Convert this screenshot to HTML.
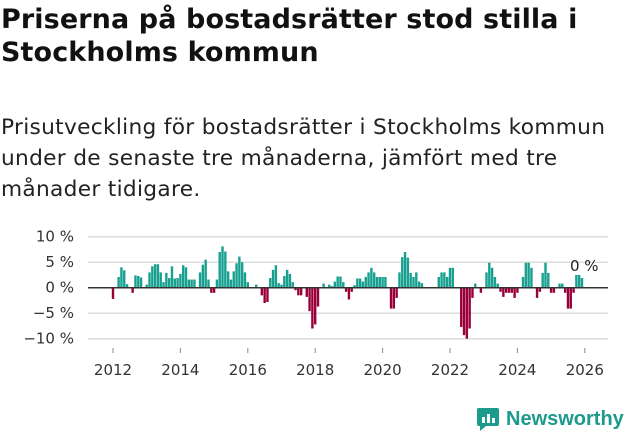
<!DOCTYPE html>
<html><head><meta charset="utf-8"><style>
body{margin:0;width:631px;height:439px;background:#fff;font-family:"DejaVu Sans","Liberation Sans",sans-serif;color:#111;overflow:hidden;position:relative}
#title{position:absolute;left:1px;top:3px;font-size:27px;font-weight:bold;line-height:33px;margin:0;white-space:nowrap;letter-spacing:0.1px}
#sub{position:absolute;left:1px;top:112px;font-size:21.7px;letter-spacing:0.3px;line-height:31px;color:#222;margin:0;white-space:nowrap}
#logo{position:absolute;left:476px;top:406px;display:flex;align-items:center}
#logo span{color:#1c9a8c;font-weight:bold;font-size:20px;margin-left:6px;font-family:"Liberation Sans",sans-serif}
svg text{font-family:"DejaVu Sans","Liberation Sans",sans-serif}
</style></head><body>
<h1 id="title">Priserna på bostadsrätter stod stilla i<br>Stockholms kommun</h1>
<p id="sub">Prisutveckling för bostadsrätter i Stockholms kommun<br>under de senaste tre månaderna, jämfört med tre<br>månader tidigare.</p>
<svg id="chart" width="631" height="439" style="position:absolute;left:0;top:0"></svg>
<div id="logo">
<svg width="24" height="26" viewBox="0 0 24 26"><path d="M3 2h18a2 2 0 0 1 2 2v14a2 2 0 0 1-2 2H10l-6 5v-5H3a2 2 0 0 1-2-2V4a2 2 0 0 1 2-2z" fill="#1c9a8c"/><rect x="6" y="11" width="3" height="6" fill="#fff"/><rect x="11" y="8" width="3" height="9" fill="#fff"/><rect x="16" y="12" width="3" height="5" fill="#fff"/></svg>
<span>Newsworthy</span></div>
<script>
const values=[-2.2,0,2.1,4,3.4,0.7,0,-1,2.4,2.3,2,0,0.6,3,4.2,4.6,4.6,3,1.1,2.9,1.9,4.2,1.8,1.9,2.7,4.4,4,1.6,1.6,1.6,0.1,3,4.5,5.5,1.6,-1,-1,1.6,7,8.1,7.1,3.2,1.6,3.2,4.8,6.1,5,3,1.1,0,0,0.6,0,-1.5,-3,-2.8,1.9,3.5,4.4,0.9,0.6,2.3,3.5,2.7,1.1,-0.5,-1.5,-1.5,0,-1.8,-4.6,-8,-7.2,-3.7,0,0.8,0,0.6,0.3,1.2,2.2,2.2,1.1,-0.8,-2.3,-0.8,0.5,1.8,1.8,1.2,2.1,3,3.9,3,2.1,2.1,2.1,2.1,0,-4.1,-4.1,-2,3,6,7,5.9,2.9,2.1,3,1.2,0.9,0,0,0,0,0,2.1,3,3,2.1,3.9,3.9,0,0,-7.7,-9.3,-10,-8,-2,0.8,0,-1,0,3,4.9,3.9,2.1,0.8,-0.8,-1.8,-1,-1,-1,-2,-1,0,2.1,4.9,4.9,3.9,0,-2,-0.8,2.9,4.9,2.9,-1,-1,0,0.8,0.8,-1,-4.1,-4.1,-1,2.5,2.5,1.9];
const startYear=2012;
const yTicks=[10,5,0,-5,-10];
const yLabels=["10 %","5 %","0 %","−5 %","−10 %"];
const xTicks=[2012,2014,2016,2018,2020,2022,2024,2026];
const lastLabel="0 %";
const NS="http://www.w3.org/2000/svg";
const svg=document.getElementById('chart');
const y=v=>287.7-v*5.1;
const x=t=>113+(t-startYear)*33.7;
function mk(tag,attrs){const e=document.createElementNS(NS,tag);for(const k in attrs)e.setAttribute(k,attrs[k]);svg.appendChild(e);return e;}
yTicks.forEach((t,i)=>{
 if(t!==0){const g=mk('line',{x1:88,x2:608,y1:y(t),y2:y(t),stroke:'#ddd','stroke-width':1.5});
 
 }
 const l=mk('text',{x:74,y:y(t)+5,'text-anchor':'end','font-size':15,fill:'#333'});l.textContent=yLabels[i];
 
 
});
const bw=2.4;
values.forEach((v,i)=>{
 if(v===0)return;
 const cx=x(startYear+i/12);
 const b=mk('rect',{x:cx-bw/2,y:Math.min(y(v),y(0)),width:bw,height:Math.abs(y(v)-y(0)),fill:v>0?'#17a090':'#99003a'});
 
 
});
const z=mk('line',{x1:88,x2:608,y1:y(0),y2:y(0),stroke:'#333','stroke-width':1.5});


xTicks.forEach(t=>{
 const tk=mk('line',{x1:x(t),x2:x(t),y1:348,y2:353,stroke:'#888','stroke-width':1});
 
 
 const l=mk('text',{x:x(t),y:375,'text-anchor':'middle','font-size':15,fill:'#333'});l.textContent=t;
 
 
});
const ll=mk('text',{x:x(startYear+(values.length-1)/12)-12,y:271,'font-size':15,fill:'#222'});ll.textContent=lastLabel;


</script>
</body></html>
